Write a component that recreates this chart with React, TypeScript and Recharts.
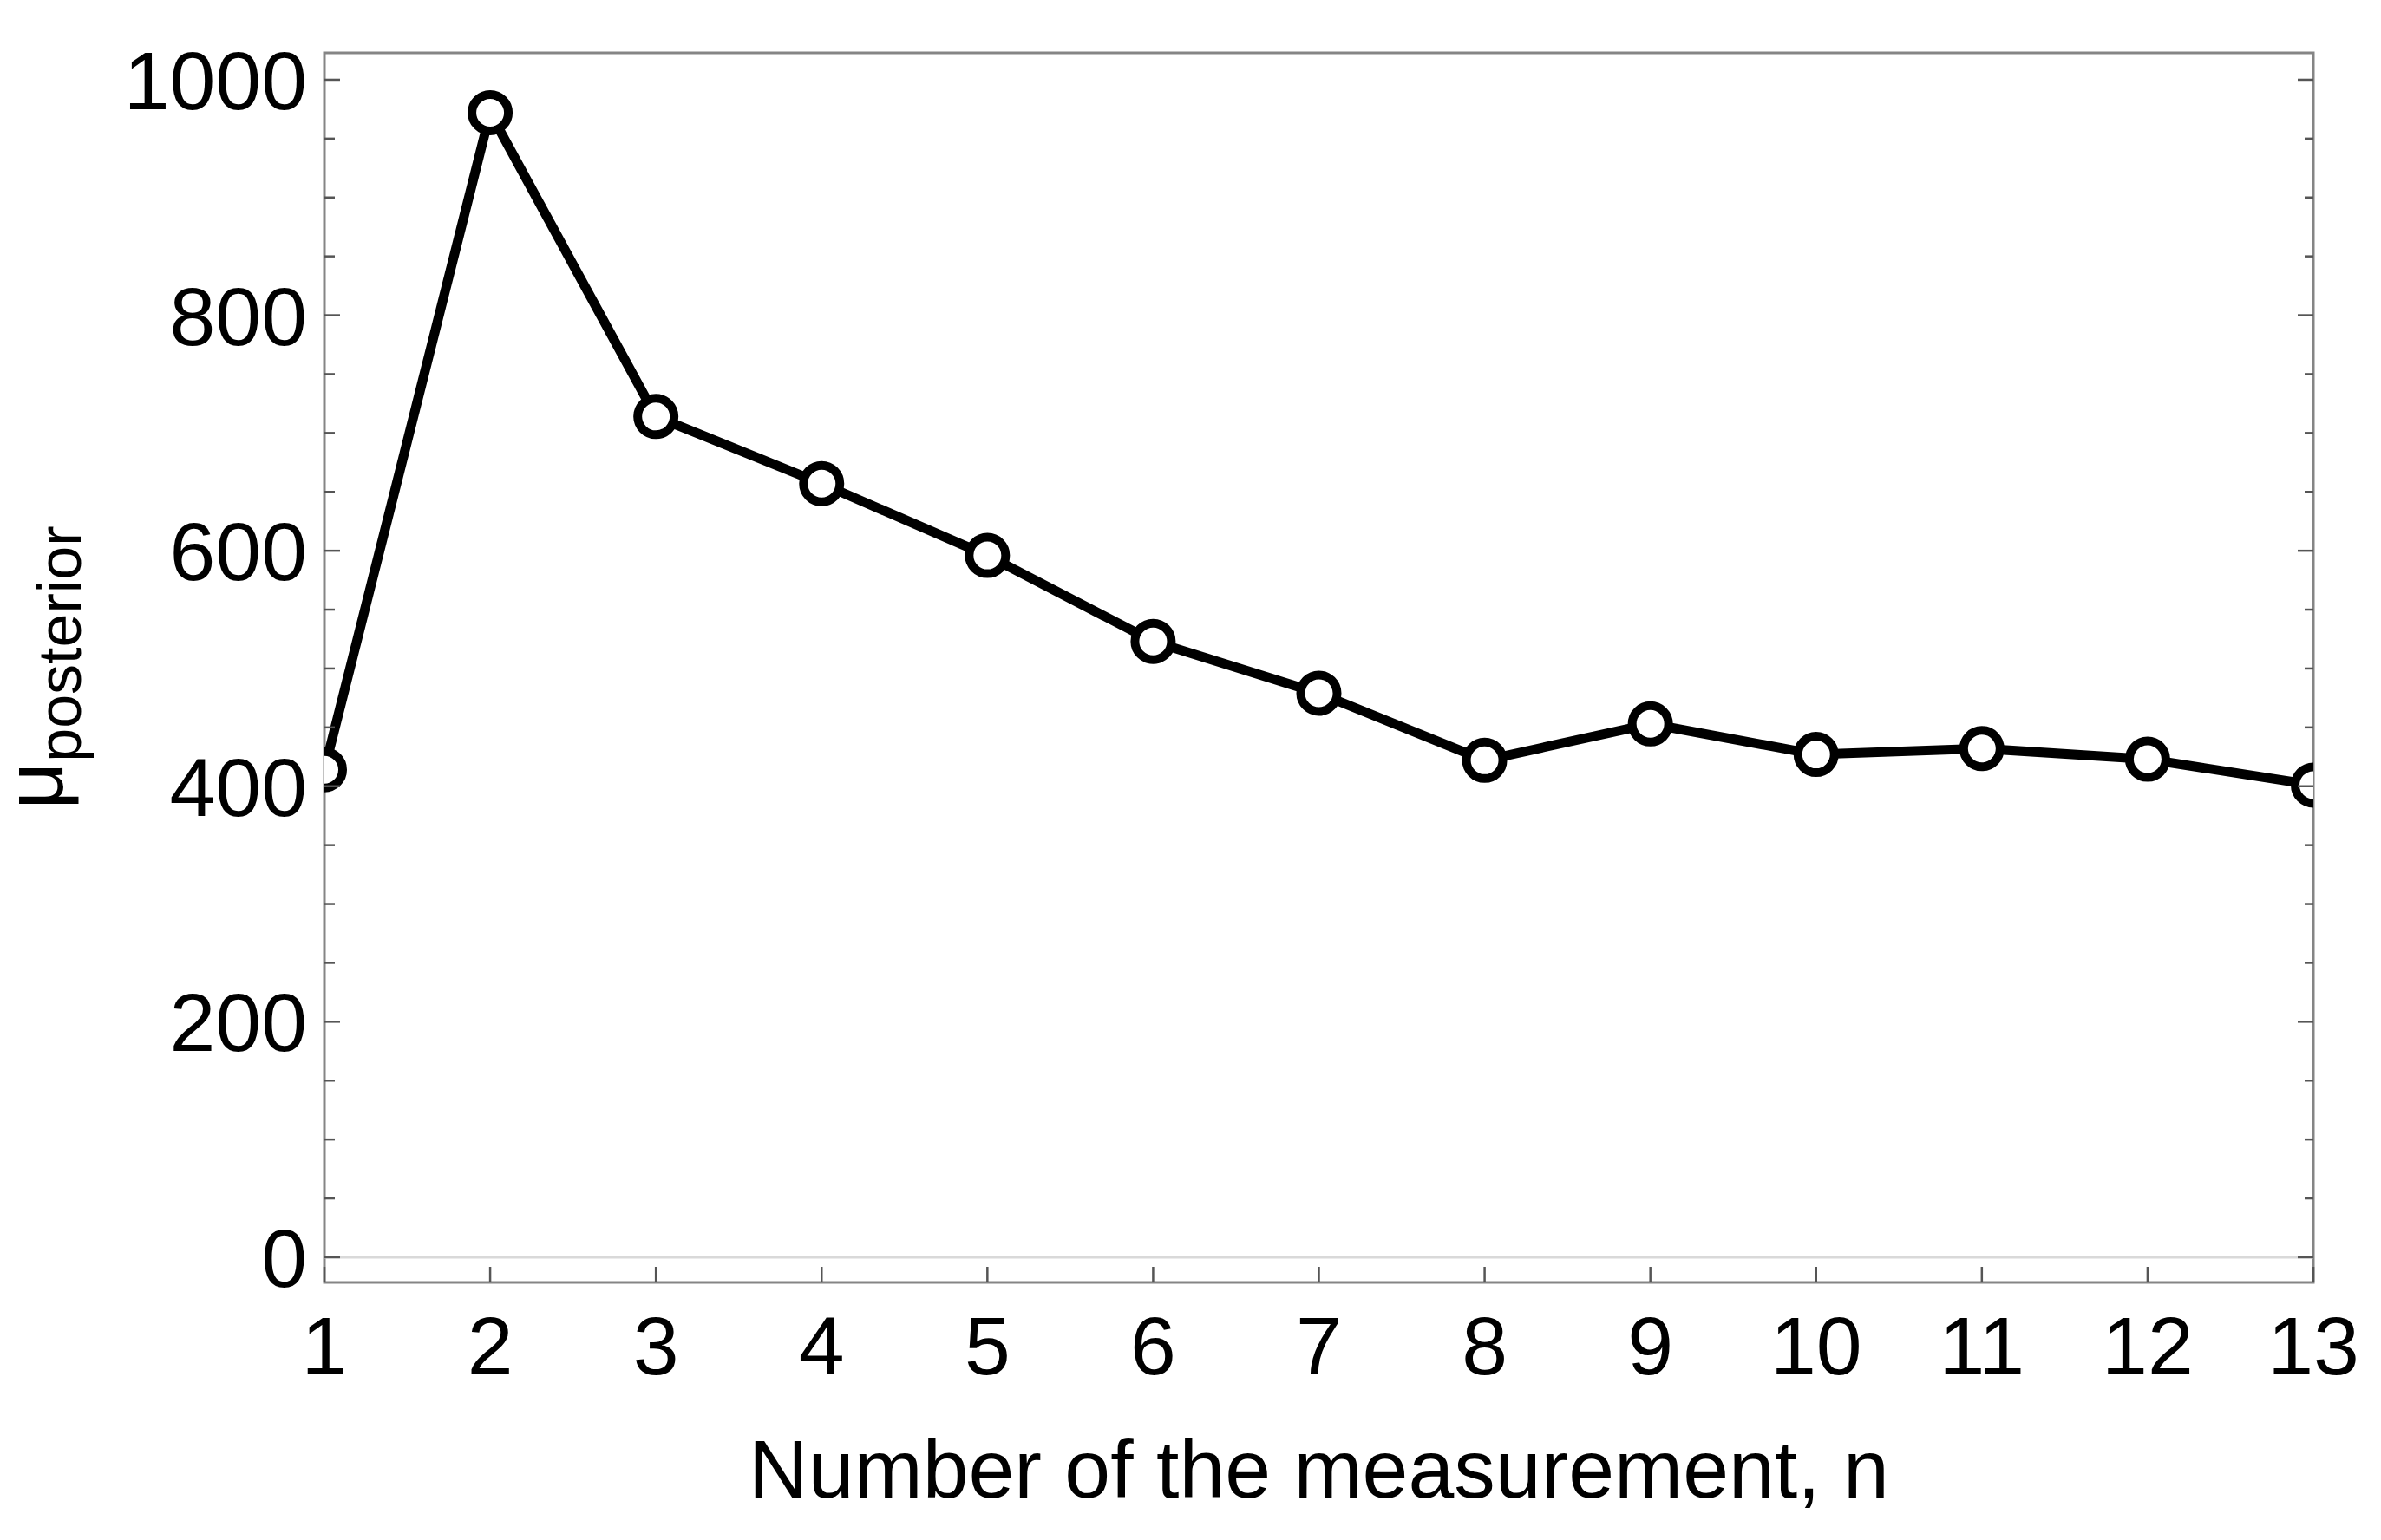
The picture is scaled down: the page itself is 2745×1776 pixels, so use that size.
import { LineChart, Line, XAxis, YAxis, ReferenceArea, ReferenceLine } from 'recharts';

const measurementN = [1, 2, 3, 4, 5, 6, 7, 8, 9, 10, 11, 12, 13];
const muPosterior = [414, 972, 714, 657, 596, 523, 479, 422, 453, 427, 432, 423, 401];

const xTicks = [1, 2, 3, 4, 5, 6, 7, 8, 9, 10, 11, 12, 13];
const yTicks = [0, 50, 100, 150, 200, 250, 300, 350, 400, 450, 500, 550, 600, 650, 700, 750, 800, 850, 900, 950, 1000];
const yDomain = [-21.4, 1022.8];

const FONT = '"Liberation Sans", Arial, sans-serif';
const TICK_COLOR = '#555';

const data = measurementN.map((n, i) => ({ n, mu: muPosterior[i] }));

function BottomTick(props: any) {
  const { x, y, payload } = props;
  return (
    <g>
      <line x1={x} x2={x} y1={y} y2={y - 18} stroke={TICK_COLOR} strokeWidth={2.5} />
      <text x={x} y={y + 106} textAnchor="middle" fontSize={95} fontFamily={FONT} fill="#000">
        {payload.value}
      </text>
    </g>
  );
}

function LeftTick(props: any) {
  const { x, y, payload } = props;
  const major = payload.value % 200 === 0;
  return (
    <g>
      <line x1={x} x2={x + (major ? 18 : 12)} y1={y} y2={y} stroke={TICK_COLOR} strokeWidth={2.5} />
      {major && (
        <text x={x - 20} y={y + 34} textAnchor="end" fontSize={95} fontFamily={FONT} fill="#000">
          {payload.value}
        </text>
      )}
    </g>
  );
}

function RightTick(props: any) {
  const { x, y, payload } = props;
  const major = payload.value % 200 === 0;
  return <line x1={x} x2={x - (major ? 18 : 10)} y1={y} y2={y} stroke={TICK_COLOR} strokeWidth={2.5} />;
}

function XLabel(props: any) {
  const vb = props.viewBox;
  return (
    <text x={vb.x + vb.width / 2} y={vb.y + 248} textAnchor="middle" fontSize={95} fontFamily={FONT} fill="#000">
      Number of the measurement, n
    </text>
  );
}

function YLabel(props: any) {
  const vb = props.viewBox;
  const cx = 72;
  const cy = vb.y + vb.height / 2;
  return (
    <text
      x={cx}
      y={cy}
      transform={`rotate(-90, ${cx}, ${cy})`}
      textAnchor="middle"
      fontFamily={FONT}
      fill="#000"
    >
      <tspan fontSize={95}>μ</tspan>
      <tspan fontSize={70} dy={21}>posterior</tspan>
    </text>
  );
}

export default function App() {
  return (
    <div style={{ position: 'absolute', left: 0, top: 0, background: '#fff' }}>
      <LineChart width={2745} height={1776} data={data} margin={{ top: 61, right: 0, bottom: 0, left: 0 }}>
        <XAxis
          dataKey="n"
          type="number"
          domain={[1, 13]}
          ticks={xTicks}
          interval={0}
          allowDataOverflow
          height={297}
          axisLine={false}
          tickLine={false}
          tickSize={0}
          tickMargin={0}
          tick={<BottomTick />}
          label={<XLabel />}
        />
        <YAxis
          type="number"
          domain={yDomain}
          ticks={yTicks}
          interval={0}
          allowDataOverflow
          width={374}
          axisLine={false}
          tickLine={false}
          tickSize={0}
          tickMargin={0}
          tick={<LeftTick />}
          label={<YLabel />}
        />
        <YAxis
          yAxisId="right"
          orientation="right"
          type="number"
          domain={yDomain}
          ticks={yTicks}
          interval={0}
          allowDataOverflow
          width={78}
          axisLine={false}
          tickLine={false}
          tickSize={0}
          tickMargin={0}
          tick={<RightTick />}
        />
        <ReferenceLine y={0} stroke="#d9d9d9" strokeWidth={3} />
        <ReferenceArea x1={1} x2={13} y1={yDomain[0]} y2={yDomain[1]} fill="none" stroke="#858585" strokeWidth={3} />
        <Line
          type="linear"
          dataKey="mu"
          stroke="#000"
          strokeWidth={11}
          strokeLinejoin="round"
          dot={{ r: 21, fill: '#fff', stroke: '#000', strokeWidth: 10 }}
          activeDot={false}
          isAnimationActive={false}
        />
      </LineChart>
    </div>
  );
}
